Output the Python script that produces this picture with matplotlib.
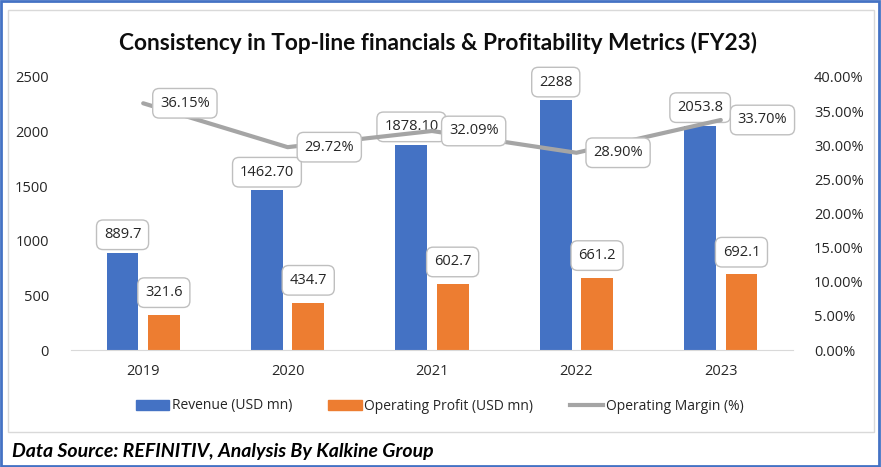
import numpy as np
import matplotlib.pyplot as plt
from matplotlib.patches import Rectangle, Patch
from matplotlib.lines import Line2D

plt.rcParams['font.family'] = ['Open Sans', 'DejaVu Sans']

years = ['2019', '2020', '2021', '2022', '2023']
revenue = [889.7, 1462.70, 1878.10, 2288, 2053.8]
revenue_labels = ['889.7', '1462.70', '1878.10', '2288', '2053.8']
profit = [321.6, 434.7, 602.7, 661.2, 692.1]
profit_labels = ['321.6', '434.7', '602.7', '661.2', '692.1']
margin = [36.15, 29.72, 32.09, 28.90, 33.70]
margin_labels = ['36.15%', '29.72%', '32.09%', '28.90%', '33.70%']

blue = '#4472c4'
orange = '#ed7d31'
grey = '#a5a5a5'

fig = plt.figure(figsize=(8.81, 4.67), dpi=100)

# outer blue frame and inner chart panel, kept behind the axes
fig.patches.append(Rectangle((0.001, 0.002), 0.997, 0.995, transform=fig.transFigure,
                             fill=False, edgecolor='#4472c4', lw=2.0, zorder=-2))
fig.patches.append(Rectangle((8 / 881, 1 - 432 / 467), 866 / 881, 422 / 467,
                             transform=fig.transFigure, facecolor='white',
                             edgecolor='#d9d9d9', lw=1.0, zorder=-1))

ax = fig.add_axes([71 / 881, 1 - 350 / 467, 722 / 881, 273 / 467])
ax2 = ax.twinx()
ax.patch.set_visible(False)
ax2.patch.set_visible(False)

x = np.arange(len(years))
w = 0.22
off = 0.143
ax.bar(x - off, revenue, w, color=blue, zorder=2)
ax.bar(x + off, profit, w, color=orange, zorder=2)

ax.set_xlim(-0.5, len(years) - 0.5)
ax.set_ylim(0, 2500)
ax.set_yticks(range(0, 2501, 500))
ax.set_xticks(x)
ax.set_xticklabels(years)

ax2.set_ylim(0, 40)
ax2.set_yticks(range(0, 41, 5))
ax2.set_yticklabels([f'{v:.2f}%' for v in range(0, 41, 5)])
ax2.plot(x, margin, color=grey, lw=3, solid_capstyle='round', zorder=3)

for a in (ax, ax2):
    for s in a.spines.values():
        s.set_visible(False)
    a.tick_params(length=0, labelsize=10.5, colors='#262626')
ax.spines['bottom'].set_visible(True)
ax.spines['bottom'].set_color('#d9d9d9')
ax.tick_params(axis='y', pad=16)
ax.tick_params(axis='x', pad=10)
ax2.tick_params(axis='y', pad=15)

box = dict(boxstyle='round,pad=0.5,rounding_size=0.45', fc='white', ec='#bfbfbf', lw=1)
for i in range(len(years)):
    ax.annotate(revenue_labels[i], (x[i] - off, revenue[i]), xytext=(0, 13),
                textcoords='offset points', ha='center', va='center',
                fontsize=10.5, color='#262626', bbox=box, zorder=5)
    ax.annotate(profit_labels[i], (x[i] + off, profit[i]), xytext=(0, 16),
                textcoords='offset points', ha='center', va='center',
                fontsize=10.5, color='#262626', bbox=box, zorder=5)
    ax2.annotate(margin_labels[i], (x[i], margin[i]), xytext=(30, 0),
                 textcoords='offset points', ha='center', va='center',
                 fontsize=10.5, color='#262626', bbox=box, zorder=6)

fig.text(0.497, 1 - 43 / 467, 'Consistency in Top-line financials & Profitability Metrics (FY23)',
         ha='center', va='center', fontsize=16.3, fontweight='bold', color='#0d0d0d',
         family=['Lato', 'DejaVu Sans'])

handles = [Patch(color=blue), Patch(color=orange), Line2D([], [], color=grey, lw=3)]
fig.legend(handles, ['Revenue (USD mn)', 'Operating Profit (USD mn)', 'Operating Margin (%)'],
           loc='center', bbox_to_anchor=(0.499, 1 - 406 / 467), ncol=3, frameon=False,
           fontsize=10, handlelength=2.4, handletextpad=0.2, columnspacing=2.6,
           labelcolor='#262626')

fig.text(12 / 881, 1 - 451 / 467, 'Data Source: REFINITIV, Analysis By Kalkine Group',
         ha='left', va='center', fontsize=14, fontweight='bold', fontstyle='italic',
         family=['Lato', 'DejaVu Sans'])

fig.savefig('out.png', dpi=100)
